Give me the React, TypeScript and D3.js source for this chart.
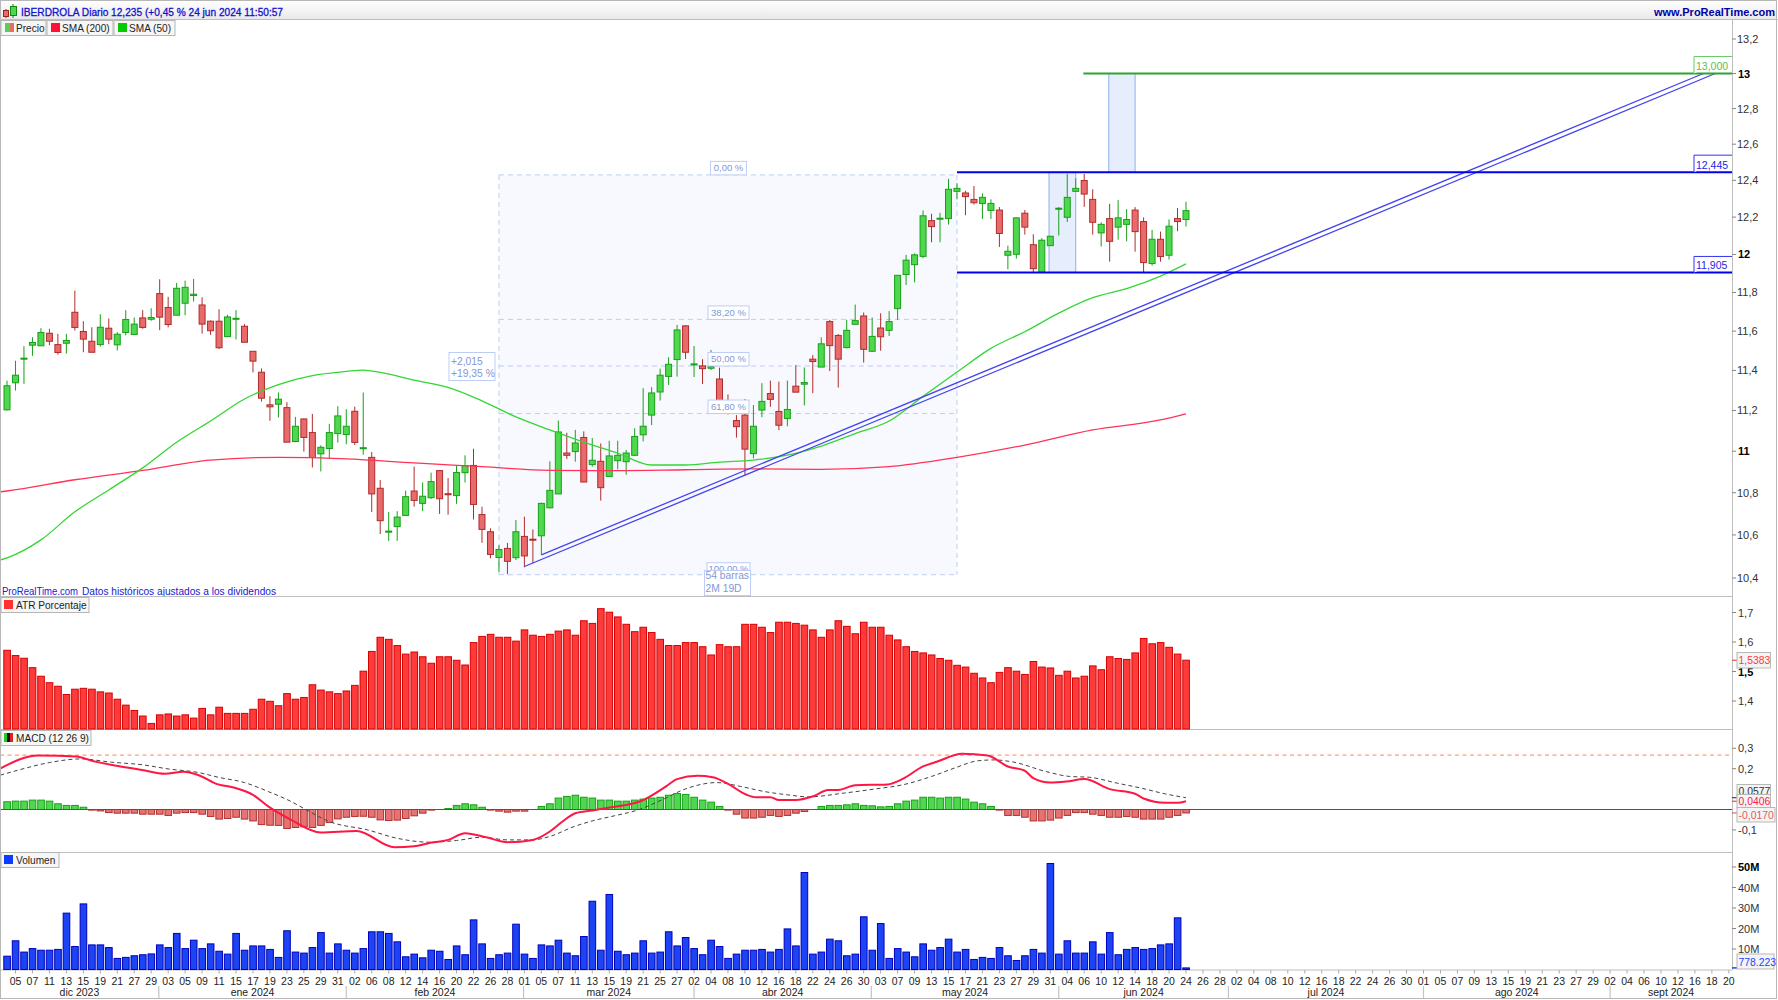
import React from "react";
import * as d3 from "d3";

// ---------- Data (bar index 0 = 4 dic 2023, bar 139 = 24 jun 2024) ----------
const opens = [11.203,11.338,11.457,11.528,11.525,11.589,11.531,11.538,11.697,11.598,11.548,11.531,11.615,11.530,11.593,11.583,11.668,11.661,11.794,11.722,11.682,11.744,11.784,11.735,11.651,11.651,11.572,11.661,11.625,11.497,11.391,11.228,11.231,11.214,11.047,11.158,11.091,10.987,11.013,11.086,11.081,11.196,11.012,10.970,10.821,10.613,10.639,10.692,10.808,10.749,10.776,10.906,10.795,10.786,10.896,10.931,10.696,10.615,10.495,10.537,10.494,10.593,10.580,10.596,10.728,10.794,10.991,10.998,11.067,10.935,10.951,10.878,10.954,10.949,10.980,11.080,11.177,11.292,11.370,11.455,11.627,11.428,11.423,11.411,11.357,11.244,11.150,11.177,10.988,11.202,11.284,11.195,11.160,11.321,11.331,11.457,11.417,11.649,11.578,11.516,11.635,11.678,11.497,11.616,11.604,11.716,11.894,11.946,11.990,12.181,12.189,12.192,12.340,12.331,12.296,12.274,12.236,12.238,11.996,12.001,12.221,12.052,11.906,12.047,12.245,12.199,12.340,12.399,12.296,12.115,12.192,12.146,12.161,12.238,12.176,11.952,12.081,11.996,12.192,12.187];
const highs = [11.349,11.449,11.523,11.569,11.615,11.612,11.586,11.586,11.810,11.651,11.620,11.687,11.665,11.595,11.708,11.670,11.708,11.718,11.869,11.777,11.850,11.862,11.871,11.775,11.655,11.713,11.684,11.708,11.636,11.497,11.410,11.271,11.290,11.241,11.168,11.160,11.183,11.029,11.134,11.221,11.206,11.219,11.289,10.996,10.861,10.708,10.712,10.810,10.925,10.849,10.896,10.909,10.870,10.933,10.980,11.012,10.733,10.631,10.552,10.563,10.670,10.686,10.626,10.752,10.951,11.150,11.090,11.104,11.097,11.064,11.038,11.051,11.051,11.006,11.112,11.311,11.316,11.409,11.467,11.632,11.630,11.524,11.457,11.503,11.414,11.280,11.177,11.257,11.227,11.336,11.349,11.344,11.349,11.427,11.415,11.478,11.568,11.658,11.585,11.658,11.737,11.696,11.670,11.692,11.703,11.890,11.998,12.006,12.236,12.218,12.223,12.408,12.384,12.343,12.369,12.329,12.296,12.254,12.047,12.198,12.238,12.108,12.087,12.099,12.254,12.435,12.411,12.435,12.351,12.172,12.272,12.292,12.243,12.254,12.198,12.131,12.122,12.187,12.249,12.283];
const lows = [11.200,11.299,11.333,11.474,11.525,11.528,11.480,11.485,11.603,11.492,11.492,11.521,11.533,11.501,11.578,11.583,11.612,11.653,11.605,11.619,11.682,11.682,11.753,11.587,11.581,11.508,11.572,11.557,11.543,11.390,11.244,11.149,11.165,11.044,11.044,10.998,10.921,10.902,10.964,11.042,11.034,11.030,10.983,10.708,10.604,10.572,10.572,10.692,10.733,10.712,10.770,10.699,10.695,10.747,10.849,10.673,10.563,10.491,10.429,10.418,10.483,10.449,10.468,10.506,10.725,10.794,10.962,10.949,10.851,10.925,10.762,10.877,10.912,10.886,10.977,11.048,11.128,11.249,11.327,11.369,11.458,11.367,11.332,11.402,11.235,11.180,11.066,10.881,10.965,11.167,11.218,11.103,11.122,11.291,11.225,11.286,11.417,11.397,11.314,11.511,11.635,11.440,11.495,11.500,11.575,11.658,11.839,11.853,11.980,12.065,12.065,12.160,12.296,12.210,12.268,12.190,12.190,12.040,11.922,11.978,12.106,11.904,11.904,12.047,12.101,12.174,12.340,12.255,12.106,12.042,11.962,12.079,12.070,12.015,11.904,11.941,11.962,11.973,12.124,12.149];
const closes = [11.323,11.376,11.462,11.542,11.593,11.548,11.491,11.552,11.619,11.559,11.492,11.620,11.559,11.584,11.660,11.636,11.619,11.670,11.672,11.634,11.822,11.827,11.791,11.636,11.602,11.515,11.673,11.666,11.543,11.447,11.261,11.218,11.256,11.044,11.122,11.067,10.969,11.019,11.091,11.173,11.122,11.043,11.017,10.794,10.667,10.618,10.684,10.781,10.763,10.783,10.853,10.771,10.790,10.897,10.930,10.744,10.626,10.509,10.532,10.477,10.615,10.502,10.576,10.749,10.811,11.094,10.980,11.040,10.851,10.956,10.824,10.977,10.980,10.991,11.072,11.122,11.287,11.376,11.431,11.606,11.492,11.433,11.409,11.419,11.247,11.194,11.120,11.010,11.122,11.245,11.255,11.127,11.205,11.291,11.339,11.445,11.535,11.526,11.457,11.604,11.654,11.507,11.573,11.571,11.649,11.890,11.970,11.998,12.207,12.149,12.194,12.351,12.356,12.311,12.278,12.307,12.274,12.112,12.017,12.196,12.146,11.925,12.076,12.097,12.248,12.307,12.356,12.325,12.172,12.161,12.070,12.196,12.187,12.122,11.957,12.081,11.989,12.151,12.176,12.235];

const sma50Bars = [-1,0,4,8,12,16,20,24,28,32,36,40,42,44,48,52,56,60,64,68,72,76,80,84,88,92,96,100,104,108,112,116,120,124,128,132,136,139];
const sma50Values = [10.481,10.493,10.577,10.709,10.813,10.919,11.044,11.148,11.257,11.329,11.374,11.395,11.402,11.390,11.351,11.315,11.248,11.168,11.104,11.044,10.990,10.933,10.933,10.947,10.957,10.981,11.025,11.086,11.148,11.270,11.392,11.512,11.597,11.693,11.773,11.820,11.886,11.950];
const sma200Bars = [-1,0,8,16,24,32,40,48,56,64,72,80,88,96,104,112,120,128,136,139];
const sma200Values = [10.803,10.808,10.862,10.907,10.957,10.970,10.963,10.943,10.925,10.907,10.906,10.910,10.914,10.912,10.925,10.970,11.030,11.104,11.153,11.183];

const atr = [1.572,1.554,1.545,1.513,1.484,1.462,1.450,1.422,1.440,1.443,1.440,1.431,1.427,1.406,1.386,1.368,1.349,1.324,1.353,1.356,1.349,1.353,1.342,1.375,1.353,1.379,1.358,1.358,1.358,1.372,1.406,1.399,1.384,1.425,1.406,1.412,1.455,1.437,1.431,1.425,1.434,1.453,1.501,1.568,1.616,1.609,1.588,1.559,1.566,1.550,1.528,1.550,1.550,1.538,1.522,1.598,1.619,1.626,1.616,1.616,1.603,1.641,1.623,1.619,1.626,1.637,1.641,1.623,1.672,1.663,1.713,1.701,1.685,1.660,1.635,1.650,1.632,1.609,1.588,1.588,1.598,1.598,1.584,1.556,1.591,1.584,1.584,1.660,1.660,1.650,1.632,1.667,1.667,1.663,1.657,1.641,1.616,1.641,1.672,1.653,1.628,1.667,1.650,1.650,1.623,1.607,1.584,1.568,1.563,1.556,1.544,1.538,1.521,1.515,1.494,1.478,1.462,1.497,1.513,1.501,1.490,1.534,1.515,1.512,1.487,1.501,1.478,1.484,1.519,1.506,1.550,1.544,1.541,1.563,1.612,1.594,1.598,1.582,1.559,1.5383];

const macdHist = [0.038,0.041,0.041,0.046,0.046,0.041,0.028,0.020,0.020,0.011,-0.003,-0.007,-0.015,-0.018,-0.018,-0.018,-0.023,-0.023,-0.023,-0.029,-0.018,-0.015,-0.015,-0.023,-0.034,-0.047,-0.044,-0.038,-0.047,-0.056,-0.074,-0.077,-0.078,-0.093,-0.088,-0.085,-0.088,-0.078,-0.064,-0.046,-0.038,-0.034,-0.033,-0.038,-0.051,-0.054,-0.052,-0.044,-0.031,-0.018,-0.003,0,0.005,0.020,0.028,0.023,0.011,-0.003,-0.008,-0.013,-0.008,-0.008,0,0.015,0.028,0.056,0.064,0.070,0.060,0.056,0.046,0.046,0.041,0.041,0.046,0.051,0.056,0.060,0.070,0.078,0.074,0.060,0.046,0.036,0.015,-0.003,-0.023,-0.042,-0.042,-0.038,-0.029,-0.034,-0.029,-0.018,-0.010,0,0.015,0.020,0.020,0.023,0.028,0.020,0.018,0.013,0.015,0.028,0.041,0.046,0.060,0.060,0.056,0.060,0.060,0.051,0.036,0.028,0.015,-0.003,-0.029,-0.029,-0.038,-0.056,-0.056,-0.052,-0.042,-0.029,-0.015,-0.015,-0.023,-0.029,-0.038,-0.038,-0.034,-0.038,-0.047,-0.047,-0.047,-0.038,-0.029,-0.017];

const macdBars = [-0.8,3.7,8.2,10,12.7,15.9,18.6,20.8,22.6,24.9,26.7,29,30.8,33.5,37,41.2,45.7,48,49.7,52,54,56.5,59,62,64,65.5,67,69,70.7,74.9,77.7,79,81.4,83.2,85,87.2,88.3,90,91,93,95,96.8,98,100,103.8,105.6,108,109.7,112.6,115.6,118,120,121,123,124.9,127,130,133,134,136.6,138,139];
const macdValues = [0.201,0.265,0.260,0.239,0.216,0.194,0.175,0.185,0.168,0.123,0.108,0.072,0.015,-0.051,-0.113,-0.106,-0.185,-0.180,-0.165,-0.149,-0.116,-0.136,-0.160,-0.149,-0.108,-0.059,-0.018,-0.005,0.007,0.044,0.113,0.149,0.165,0.158,0.126,0.072,0.060,0.060,0.046,0.046,0.064,0.095,0.096,0.119,0.123,0.150,0.211,0.235,0.273,0.265,0.211,0.190,0.154,0.132,0.137,0.149,0.100,0.077,0.054,0.033,0.033,0.0406];
const signalBars = [-0.8,1.4,5,8.7,12.3,16,19,22.6,24.9,28,30.8,33.5,35.3,38,42.5,46,49.7,53,56,59,61.9,64,66.9,69,71.6,74.4,77.2,80,83.7,86.5,89.3,92,94.5,98.6,102.4,105.6,109,111.7,114.5,116.4,118.7,122.5,125.3,127.6,130.9,133.7,136.5,139];
const signalValues = [0.168,0.194,0.230,0.248,0.232,0.219,0.199,0.181,0.158,0.132,0.088,0.039,-0.002,-0.059,-0.100,-0.141,-0.160,-0.152,-0.136,-0.149,-0.149,-0.132,-0.083,-0.056,-0.031,-0.002,0.047,0.101,0.132,0.113,0.088,0.072,0.062,0.080,0.101,0.121,0.162,0.203,0.239,0.243,0.232,0.186,0.162,0.158,0.129,0.105,0.077,0.0577];

const volumeM = [6.5,14.0,8.5,10.2,9.4,9.4,9.8,27.5,11.2,32.0,12.0,12.0,10.7,5.4,5.9,6.7,7.2,7.6,12.0,10.7,17.6,10.2,14.3,10.2,12.5,8.9,7.5,17.6,9.4,11.5,11.5,9.8,5.9,18.9,8.5,8.0,10.7,18.0,8.0,12.5,9.4,8.0,10.2,18.4,18.4,17.6,13.5,6.2,7.5,5.7,9.4,8.9,4.9,11.5,7.2,24.2,12.5,5.4,7.2,8.0,22.1,7.5,5.4,12.0,11.5,14.3,8.0,6.7,16.1,33.3,9.4,36.6,8.9,7.2,8.0,14.0,8.0,8.5,18.4,11.5,15.6,10.2,7.2,14.3,11.2,5.4,7.5,9.4,9.4,9.8,8.5,9.8,19.8,11.5,47.3,7.5,8.5,14.8,14.0,6.7,7.5,25.7,9.4,22.4,5.4,10.2,8.5,6.2,12.5,9.4,10.7,14.8,8.5,9.8,4.9,5.9,5.4,10.7,6.7,4.4,6.7,9.8,8.0,51.7,7.5,14.0,8.0,8.0,13.5,7.5,18.0,7.2,9.8,10.7,9.8,10.2,12.0,12.5,25.2,0.778];

const dayLabels = ["05","07","11","13","15","19","21","27","29","03","05","09","11","15","17","19","23","25","29","31","02","06","08","12","14","16","20","22","26","28","01","05","07","11","13","15","19","21","25","27","02","04","08","10","12","16","18","22","24","26","30","03","07","09","13","15","17","21","23","27","29","31","04","06","10","12","14","18","20","24","26","28","02","04","08","10","12","16","18","22","24","26","30","01","05","07","09","13","15","19","21","23","27","29","02","04","06","10","12","16","18","20"];
const monthNames = ["dic 2023","ene 2024","feb 2024","mar 2024","abr 2024","may 2024","jun 2024","jul 2024","ago 2024","sept 2024"];
const monthEndBars = [17.9,40,60.9,81,101.9,124,144,167,189];

const priceTicks = [13.2,13,12.8,12.6,12.4,12.2,12,11.8,11.6,11.4,11.2,11,10.8,10.6,10.4];
const atrTicks = [1.7,1.6,1.5,1.4];
const macdTicks = [0.3,0.2,-0.1];
const volTicks = [50,40,30,20,10];
const boldTicks = [13,12,11,1.5,50];

const fibHigh = 12.43, fibLow = 10.415, fibStart = 58, fibEnd = 112;
const fibLevels = [{ r: 0, t: "0,00 %" }, { r: 0.382, t: "38,20 %" }, { r: 0.5, t: "50,00 %" }, { r: 0.618, t: "61,80 %" }];
const resistance = 12.445, support = 11.905, target = 13.0;
const trendA = [{ b: 61, p: 10.453 }, { b: 201.4, p: 13 }];
const trendB = [{ b: 63, p: 10.507 }, { b: 200, p: 13 }];
const macdLevel = 0.2667;

// ---------- Layout ----------
const W = 1778, H = 1000, R = 1732;
const x = d3.scaleLinear().domain([0, 139]).range([7, 7 + 139 * 8.482]);
const yP = d3.scaleLog().domain([13.2, 10.4]).range([39, 578]);
const yA = d3.scaleLinear().domain([1.7, 1.4]).range([612.5, 701]);
const yM = d3.scaleLinear().domain([0.3, -0.1]).range([748.3, 829.9]);
const yV = d3.scaleLinear().domain([50, 0]).range([867, 969.5]);
const FONT = "'Liberation Sans', Arial, sans-serif";
const GRID = "#bdbdbd";
const fmt = (v: number) => String(v).replace(".", ",");

const lineOf = (xs: number[], ys: number[], yScale: (v: number) => number) =>
  d3.line<number>().x((_, i) => x(xs[i])).y((d) => yScale(d)).curve(d3.curveMonotoneX)(ys) as string;

function Legend({ xw, y, w, label, swatch }: { xw: number; y: number; w: number; label: string; swatch: React.ReactNode }) {
  return (
    <g>
      <rect x={xw} y={y} width={w} height={15} fill="#f6f6f6" stroke="#b5b5b5" />
      {swatch}
      <text x={xw + 15} y={y + 11.5} fontSize={10.1} fill="#222">{label}</text>
    </g>
  );
}

function Tag({ x0, x1, y0, y1, text, color }: { x0: number; x1: number; y0: number; y1: number; text: string; color: string }) {
  return (
    <g>
      <rect x={x0} y={y0} width={x1 - x0} height={y1 - y0} fill="#f4f4f4" stroke="#b8b8b8" />
      <text x={x0 + 1.5} y={(y0 + y1) / 2 + 4} fontSize={10.4} fill={color}>{text}</text>
    </g>
  );
}

export default function App() {
  const bars = d3.range(opens.length);
  const fibP = (r: number) => fibHigh - r * (fibHigh - fibLow);
  const monthEdges = [0, ...monthEndBars.map((b) => x(b)), R];
  const fibLabel = "#8298d8", fibLine = "#bccdf6";
  return (
    <svg width={W} height={H} viewBox={`0 0 ${W} ${H}`} style={{ position: "fixed", left: 0, top: 0, display: "block", background: "#fff" }} fontFamily={FONT}>
      <defs>
        <linearGradient id="hdr" x1="0" x2="0" y1="0" y2="1">
          <stop offset="0" stopColor="#ffffff" />
          <stop offset="1" stopColor="#e9e9e9" />
        </linearGradient>
        <clipPath id="price"><rect x={1} y={20} width={R - 1} height={576} /></clipPath>
        <clipPath id="macd"><rect x={1} y={730} width={R - 1} height={121} /></clipPath>
      </defs>

      {/* frame and header */}
      <rect x={0.5} y={0.5} width={W - 2} height={H - 2} fill="#fff" stroke="#b8b8b8" />
      <rect x={1} y={1} width={W - 3} height={18} fill="url(#hdr)" />
      <line x1={0} x2={W} y1={19.5} y2={19.5} stroke={GRID} />
      <g>
        <line x1={6} x2={6} y1={9} y2={18} stroke="#a02020" />
        <rect x={3.5} y={10.5} width={5} height={6} fill="#e86a6a" stroke="#a02020" />
        <line x1={13} x2={13} y1={4} y2={18} stroke="#118811" />
        <rect x={10.5} y={6.5} width={6} height={9} fill="#4fd64f" stroke="#118811" />
      </g>
      <text x={21} y={15.5} fontSize={11} fontWeight="normal" fill="#1010d0" stroke="#1010d0" strokeWidth={0.3} textLength={262} lengthAdjust="spacingAndGlyphs">IBERDROLA Diario 12,235 (+0,45 % 24 jun 2024 11:50:57</text>
      <text x={1775} y={15.5} fontSize={11} fontWeight="bold" fill="#0000a8" textAnchor="end">www.ProRealTime.com</text>

      {/* pane separators */}
      <line x1={0} x2={R} y1={596.5} y2={596.5} stroke={GRID} />
      <line x1={0} x2={R} y1={729.5} y2={729.5} stroke={GRID} />
      <line x1={0} x2={R} y1={852.5} y2={852.5} stroke={GRID} />
      <line x1={0} x2={R} y1={970} y2={970} stroke={GRID} />
      <line x1={R + 0.5} x2={R + 0.5} y1={19} y2={970} stroke={GRID} />

      {/* price pane */}
      <g clipPath="url(#price)">
        <rect x={x(fibStart)} y={yP(fibHigh)} width={x(fibEnd) - x(fibStart)} height={yP(fibLow) - yP(fibHigh)} fill="#f8f9fe" />
        <g stroke={fibLine} strokeDasharray="5 4" fill="none">
          <line x1={x(fibStart)} x2={x(fibStart)} y1={yP(fibHigh)} y2={yP(fibLow)} />
          <line x1={x(fibEnd)} x2={x(fibEnd)} y1={yP(fibHigh)} y2={yP(fibLow)} />
          {[0, 0.382, 0.5, 0.618, 1].map((r) => (
            <line key={r} x1={x(fibStart)} x2={x(fibEnd)} y1={yP(fibP(r))} y2={yP(fibP(r))} />
          ))}
        </g>
        <rect x={x(122.85)} y={yP(resistance)} width={x(126) - x(122.85)} height={yP(support) - yP(resistance)} fill="#e6edfc" stroke="#8ab0f0" />
        <rect x={x(129.9)} y={yP(target)} width={x(133) - x(129.9)} height={yP(resistance) - yP(target)} fill="#e6edfc" stroke="#8ab0f0" />

        {bars.map((i) => {
          const up = closes[i] >= opens[i];
          const top = yP(Math.max(opens[i], closes[i]));
          const bot = yP(Math.min(opens[i], closes[i]));
          const stroke = up ? "#17a017" : "#b02c2c";
          return (
            <g key={i}>
              <line x1={x(i)} x2={x(i)} y1={yP(highs[i])} y2={yP(lows[i])} stroke={stroke} strokeWidth={1} />
              <rect x={x(i) - 3} y={top} width={6} height={Math.max(bot - top, 1)} fill={up ? "#4fd84f" : "#e86a6a"} stroke={stroke} strokeWidth={1} />
            </g>
          );
        })}

        <path d={lineOf(sma200Bars, sma200Values, yP)} fill="none" stroke="#ff3355" strokeWidth={1.3} />
        <path d={lineOf(sma50Bars, sma50Values, yP)} fill="none" stroke="#33d633" strokeWidth={1.3} />

        <g stroke="#4444ee" strokeWidth={1.3}>
          <line x1={x(trendA[0].b)} y1={yP(trendA[0].p)} x2={x(trendA[1].b)} y2={yP(trendA[1].p)} />
          <line x1={x(trendB[0].b)} y1={yP(trendB[0].p)} x2={x(trendB[1].b)} y2={yP(trendB[1].p)} />
        </g>
        <line x1={x(fibEnd)} x2={R} y1={yP(resistance)} y2={yP(resistance)} stroke="#0000f0" strokeWidth={2} />
        <line x1={x(fibEnd)} x2={R} y1={yP(support)} y2={yP(support)} stroke="#0000f0" strokeWidth={2} />
        <line x1={x(126.9)} x2={R} y1={yP(target)} y2={yP(target)} stroke="#2ca52c" strokeWidth={2} />

        {/* fibonacci labels */}
        <g fontSize={9.5}>
          {fibLevels.map((l) => {
            const yy = yP(fibP(l.r));
            const w = l.r === 0 ? 36 : 41;
            return (
              <g key={l.t}>
                <rect x={728.5 - w / 2} y={yy - 13.5} width={w} height={13.5} fill="#fff" stroke={fibLine} />
                <text x={728.5} y={yy - 3.5} textAnchor="middle" fill={fibLabel}>{l.t}</text>
              </g>
            );
          })}
          <rect x={707} y={yP(fibLow) - 12} width={43} height={12} fill="#fff" stroke={fibLine} />
          <text x={728.5} y={yP(fibLow) - 3} textAnchor="middle" fill={fibLabel}>100,00 %</text>
        </g>
        <g fontSize={10.3} fill={fibLabel}>
          <rect x={449} y={352.5} width={46} height={28} fill="#fff" stroke={fibLine} />
          <text x={451} y={364.5}>+2,015</text>
          <text x={451} y={377}>+19,35 %</text>
          <rect x={704.5} y={570.5} width={46} height={25} fill="#fff" stroke={fibLine} />
          <text x={705.5} y={578.5}>54 barras</text>
          <text x={705.5} y={592}>2M 19D</text>
        </g>

        {/* level labels */}
        <g fontSize={10.5}>
          <path d={`M${R},${yP(target) - 17} H1694 V${yP(target)}`} fill="#fff" stroke="#66cc66" />
          <text x={1696} y={yP(target) - 3.5} fill="#55c455">13,000</text>
          <path d={`M${R},${yP(resistance) - 17} H1694 V${yP(resistance)}`} fill="#fff" stroke="#3333ee" />
          <text x={1696} y={yP(resistance) - 3.5} fill="#2424e6">12,445</text>
          <path d={`M${R},${yP(support) - 16} H1694 V${yP(support)}`} fill="#fff" stroke="#3333ee" />
          <text x={1696} y={yP(support) - 3.5} fill="#2424e6">11,905</text>
        </g>
        <g fontSize={10} fill="#2020d0">
          <text x={2} y={594.5} textLength={76} lengthAdjust="spacingAndGlyphs">ProRealTime.com</text>
          <text x={82} y={594.5} textLength={194} lengthAdjust="spacingAndGlyphs">Datos históricos ajustados a los dividendos</text>
        </g>
      </g>
      <Legend xw={1} y={20.5} w={45} label="Precio" swatch={<g><rect x={5} y={23} width={5} height={9} fill="#55d055" /><rect x={10} y={23} width={4} height={9} fill="#e86a6a" /></g>} />
      <Legend xw={47} y={20.5} w={66} label="SMA (200)" swatch={<rect x={51} y={23} width={9} height={9} fill="#ff1133" />} />
      <Legend xw={114} y={20.5} w={61} label="SMA (50)" swatch={<rect x={118} y={23} width={9} height={9} fill="#00cc00" />} />

      {/* ATR pane */}
      {bars.map((i) => (
        <rect key={i} x={x(i) - 3.2} y={yA(atr[i])} width={6.6} height={729 - yA(atr[i])} fill="#ff3a3a" stroke="#d40000" strokeWidth={1} />
      ))}
      <Legend xw={1} y={597.5} w={88} label="ATR Porcentaje" swatch={<rect x={4} y={600} width={9} height={9} fill="#ff3030" />} />

      {/* MACD pane */}
      <g clipPath="url(#macd)">
        {bars.map((i) => {
          const v = macdHist[i];
          if (v === 0) return null;
          const t = Math.min(yM(v), yM(0));
          const h = Math.abs(yM(v) - yM(0));
          return <rect key={i} x={x(i) - 3.2} y={t} width={6.6} height={h} fill={v > 0 ? "#4fd84f" : "#e67272"} stroke={v > 0 ? "#17a017" : "#b03030"} strokeWidth={1} />;
        })}
        <line x1={0} x2={R} y1={yM(0)} y2={yM(0)} stroke="#4444cc" strokeWidth={1.2} />
        <line x1={0} x2={R} y1={yM(macdLevel)} y2={yM(macdLevel)} stroke="#ffa070" strokeWidth={1.2} strokeDasharray="4 3.5" />
        <path d={lineOf(signalBars, signalValues, yM)} fill="none" stroke="#444" strokeWidth={1} strokeDasharray="4 3" />
        <path d={lineOf(macdBars, macdValues, yM)} fill="none" stroke="#ff1744" strokeWidth={2} />
      </g>
      <Legend xw={1} y={730.5} w={90} label="MACD (12 26 9)" swatch={<g><rect x={4} y={733} width={3} height={9} fill="#22cc22" /><rect x={7} y={733} width={3} height={9} fill="#111" /><rect x={10} y={733} width={3} height={9} fill="#dd2222" /></g>} />

      {/* volume pane */}
      {bars.map((i) => (
        <rect key={i} x={x(i) - 3.2} y={yV(volumeM[i])} width={6.6} height={yV(0) - yV(volumeM[i])} fill="#1c44f5" stroke="#0000b8" strokeWidth={1} />
      ))}
      <Legend xw={1} y={852.5} w={58} label="Volumen" swatch={<rect x={4} y={855} width={9} height={9} fill="#0a3cff" />} />

      {/* right axes */}
      <g fontSize={11} fill="#333">
        {priceTicks.map((t) => (
          <g key={t}>
            <line x1={R} x2={R + 4} y1={yP(t)} y2={yP(t)} stroke="#888" />
            <text x={R + (boldTicks.includes(t) ? 6 : 5)} y={yP(t) + 4} fontWeight={boldTicks.includes(t) ? "bold" : "normal"} fill={boldTicks.includes(t) ? "#000" : "#333"}>{fmt(t)}</text>
          </g>
        ))}
        {atrTicks.map((t) => (
          <g key={t}>
            <line x1={R} x2={R + 4} y1={yA(t)} y2={yA(t)} stroke="#888" />
            <text x={R + 6} y={yA(t) + 4} fontWeight={boldTicks.includes(t) ? "bold" : "normal"} fill={boldTicks.includes(t) ? "#000" : "#333"}>{fmt(t)}</text>
          </g>
        ))}
        {macdTicks.map((t) => (
          <g key={t}>
            <line x1={R} x2={R + 4} y1={yM(t)} y2={yM(t)} stroke="#888" />
            <text x={R + 6} y={yM(t) + 4}>{fmt(t)}</text>
          </g>
        ))}
        {volTicks.map((t) => (
          <g key={t}>
            <line x1={R} x2={R + 4} y1={yV(t)} y2={yV(t)} stroke="#888" />
            <text x={R + 6} y={yV(t) + 4} fontWeight={boldTicks.includes(t) ? "bold" : "normal"} fill={boldTicks.includes(t) ? "#000" : "#333"}>{t}M</text>
          </g>
        ))}
      </g>
      <line x1={R} x2={R + 5} y1={yA(1.5383)} y2={yA(1.5383)} stroke="#ff2020" />
      <line x1={R} x2={R + 5} y1={yM(0.0577)} y2={yM(0.0577)} stroke="#222" />
      <line x1={R} x2={R + 5} y1={yM(0.0406)} y2={yM(0.0406)} stroke="#ff1744" />
      <line x1={R} x2={R + 5} y1={yM(-0.017)} y2={yM(-0.017)} stroke="#d05050" />
      <line x1={R} x2={R + 5} y1={yV(0.778)} y2={yV(0.778)} stroke="#1c44f5" strokeWidth={1.5} />
      <Tag x0={1737} x1={1770.5} y0={652.5} y1={668} text="1,5383" color="#ff3a3a" />
      <Tag x0={1737} x1={1770.5} y0={784.5} y1={798} text="0,0577" color="#333" />
      <Tag x0={1737} x1={1770.5} y0={794.5} y1={807.5} text="0,0406" color="#ff1744" />
      <Tag x0={1737} x1={1775} y0={807.5} y1={822} text="-0,0170" color="#e06060" />
      <Tag x0={1737} x1={1774} y0={954} y1={969} text="778.223" color="#2244ff" />

      {/* time axis */}
      <g fontSize={10.5} fill="#222" textAnchor="middle">
        {dayLabels.map((d, k) => {
          const b = 1 + 2 * k;
          return (
            <g key={k}>
              <line x1={x(b)} x2={x(b)} y1={970} y2={973.5} stroke="#aaa" />
              <text x={x(b)} y={985}>{d}</text>
            </g>
          );
        })}
        {monthNames.map((m, k) => (
          <text key={m} x={(monthEdges[k] + monthEdges[k + 1]) / 2} y={996}>{m}</text>
        ))}
      </g>
      {monthEndBars.map((b) => (
        <line key={b} x1={x(b)} x2={x(b)} y1={986} y2={998} stroke="#c4c4c4" strokeWidth={1.2} />
      ))}
    </svg>
  );
}
